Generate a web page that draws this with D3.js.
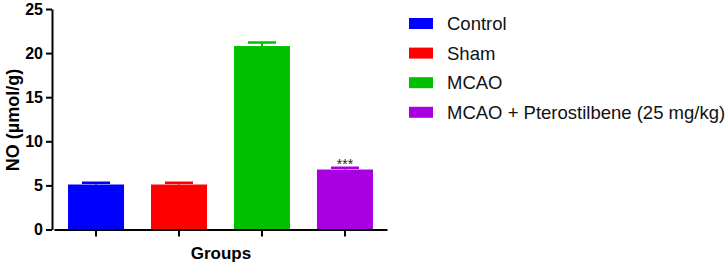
<!DOCTYPE html>
<html>
<head>
<meta charset="utf-8">
<script src="https://cdn.jsdelivr.net/npm/d3@7"></script>
<style>
  body { margin: 0; background: #fff; }
  svg { display: block; font-family: Arial, "Liberation Sans", sans-serif; }
</style>
</head>
<body>
<div id="chart"></div>
<script>
// data
const groups = ["Control", "Sham", "MCAO", "MCAO + Pterostilbene (25 mg/kg)"];
const means = [5.1, 5.1, 20.8, 6.8];
const sems = [0.2, 0.2, 0.4, 0.2];
const colors = ["#0000ff", "#ff0000", "#00c000", "#a800e3"];
const yTicks = [0, 5, 10, 15, 20, 25];
const marks = ["", "", "", "***"];

const W = 726, H = 265;

const svg = d3.select("#chart")
  .append("svg")
  .attr("width", W)
  .attr("height", H);

const x = d3.scaleBand()
  .domain(groups)
  .range([54, 387])
  .paddingInner(0.325)
  .paddingOuter(0.169);

const y = d3.scaleLinear()
  .domain([0, 25])
  .range([229.5, 9]);

// bars
svg.selectAll(".bar")
  .data(groups)
  .enter()
  .append("rect")
  .attr("class", "bar")
  .attr("x", (d) => x(d))
  .attr("y", (d, i) => y(means[i]))
  .attr("width", x.bandwidth())
  .attr("height", (d, i) => y(0) - y(means[i]))
  .attr("fill", (d, i) => colors[i]);

// error bars (upper only, same colour as bar)
const capW = x.bandwidth() * 0.5;
groups.forEach((g, i) => {
  const cx = x(g) + x.bandwidth() / 2;
  svg.append("line")
    .attr("x1", cx).attr("x2", cx)
    .attr("y1", y(means[i])).attr("y2", y(means[i] + sems[i]))
    .attr("stroke", colors[i])
    .attr("stroke-width", 2);
  svg.append("line")
    .attr("x1", cx - capW / 2).attr("x2", cx + capW / 2)
    .attr("y1", y(means[i] + sems[i])).attr("y2", y(means[i] + sems[i]))
    .attr("stroke", colors[i])
    .attr("stroke-width", 2.5);
  if (marks[i]) {
    svg.append("text")
      .attr("x", cx)
      .attr("y", y(means[i] + sems[i]) + 1)
      .attr("text-anchor", "middle")
      .attr("font-size", "14px")
      .attr("fill", "#222")
      .text(marks[i]);
  }
});

// y axis
const yAxis = svg.append("g")
  .attr("transform", "translate(52,0)")
  .call(d3.axisLeft(y).tickValues(yTicks).tickSize(6).tickSizeOuter(0).tickPadding(3));
yAxis.select(".domain").attr("stroke", "#000").attr("stroke-width", 2);
yAxis.selectAll(".tick line").attr("stroke", "#000").attr("stroke-width", 2);
yAxis.selectAll(".tick text")
  .attr("font-size", "16px")
  .attr("font-weight", "bold")
  .attr("font-family", "Arial, 'Liberation Sans', sans-serif")
  .attr("fill", "#000");

// x axis
const xAxis = svg.append("g")
  .attr("transform", `translate(0,${y(0)})`)
  .call(d3.axisBottom(x).tickSize(7).tickSizeOuter(0).tickFormat(""));
xAxis.select(".domain").attr("stroke", "#000").attr("stroke-width", 2);
xAxis.selectAll(".tick line").attr("stroke", "#000").attr("stroke-width", 2);

// axis titles
svg.append("text")
  .attr("x", 221)
  .attr("y", 259)
  .attr("text-anchor", "middle")
  .attr("font-size", "17px")
  .attr("font-weight", "bold")
  .text("Groups");

svg.append("text")
  .attr("transform", `translate(19,120) rotate(-90)`)
  .attr("text-anchor", "middle")
  .attr("font-size", "18px")
  .attr("font-weight", "bold")
  .text("NO (µmol/g)");

// legend
const legend = svg.append("g").attr("transform", "translate(409,23.5)");
groups.forEach((g, i) => {
  const row = legend.append("g").attr("transform", `translate(0,${i * 29.6})`);
  row.append("rect")
    .attr("x", 0).attr("y", -5.5)
    .attr("width", 24).attr("height", 11)
    .attr("fill", colors[i]);
  row.append("text")
    .attr("x", 38)
    .attr("y", 6.5)
    .attr("font-size", "18.5px")
    .attr("fill", "#111")
    .text(g);
});
</script>
</body>
</html>
